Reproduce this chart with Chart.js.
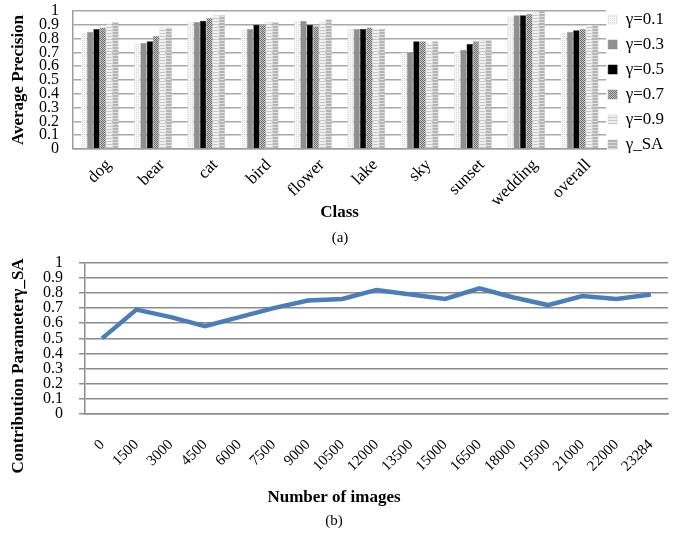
<!DOCTYPE html>
<html>
<head>
<meta charset="utf-8">
<script src="https://cdn.jsdelivr.net/npm/chart.js@4"></script>
<style>
  html, body { margin: 0; padding: 0; background: #fff; }
  #wrapA { position: absolute; left: 0; top: 0; width: 694px; height: 250px; }
  #wrapB { position: absolute; left: 0; top: 250px; width: 694px; height: 290px; }
</style>
</head>
<body>
<div id="wrapA"><canvas id="precisionChart"></canvas></div>
<div id="wrapB"><canvas id="gammaChart"></canvas></div>
<script>
// (a) Average precision per class
const classes = ['dog', 'bear', 'cat', 'bird', 'flower', 'lake', 'sky', 'sunset', 'wedding', 'overall'];
const gamma01 = [0.84, 0.77, 0.92, 0.86, 0.93, 0.87, 0.70, 0.71, 0.96, 0.84];
const gamma03 = [0.85, 0.77, 0.92, 0.87, 0.93, 0.87, 0.70, 0.72, 0.97, 0.85];
const gamma05 = [0.87, 0.78, 0.93, 0.90, 0.90, 0.87, 0.78, 0.76, 0.97, 0.86];
const gamma07 = [0.88, 0.82, 0.95, 0.90, 0.89, 0.88, 0.78, 0.78, 0.98, 0.87];
const gamma09 = [0.91, 0.88, 0.97, 0.92, 0.92, 0.87, 0.77, 0.79, 0.99, 0.90];
const gammaSAByClass = [0.92, 0.88, 0.97, 0.92, 0.94, 0.87, 0.78, 0.79, 1.00, 0.90];
const seriesNames = ['γ=0.1', 'γ=0.3', 'γ=0.5', 'γ=0.7', 'γ=0.9', 'γ_SA'];
const yTickLabels = ['0', '0.1', '0.2', '0.3', '0.4', '0.5', '0.6', '0.7', '0.8', '0.9', '1'];

// (b) Contribution parameter vs number of images
const imageCounts = ['0', '1500', '3000', '4500', '6000', '7500', '9000', '10500', '12000',
  '13500', '15000', '16500', '18000', '19500', '21000', '22000', '23284'];
const gammaSA = [0.50, 0.69, 0.64, 0.58, 0.64, 0.70, 0.75, 0.76, 0.82,
  0.79, 0.76, 0.83, 0.77, 0.72, 0.78, 0.76, 0.79];

const serif = "'Liberation Serif', 'Times New Roman', serif";
Chart.defaults.font.family = serif;
Chart.defaults.color = '#000';

function makePattern(w, h, draw) {
  const c = document.createElement('canvas');
  c.width = w;
  c.height = h;
  const ctx = c.getContext('2d');
  draw(ctx);
  return ctx.createPattern(c, 'repeat');
}

const fill01 = makePattern(2, 2, ctx => {
  ctx.fillStyle = '#f6f6f6'; ctx.fillRect(0, 0, 2, 2);
  ctx.fillStyle = '#dcdcdc'; ctx.fillRect(0, 0, 1, 1);
});
const fill07 = makePattern(2, 2, ctx => {
  ctx.fillStyle = '#c4c4c4'; ctx.fillRect(0, 0, 2, 2);
  ctx.fillStyle = '#6e6e6e'; ctx.fillRect(0, 0, 1, 1); ctx.fillRect(1, 1, 1, 1);
});
const fill09 = makePattern(2, 3, ctx => {
  ctx.fillStyle = '#f0f0f0'; ctx.fillRect(0, 0, 2, 3);
  ctx.fillStyle = '#c8c8c8'; ctx.fillRect(0, 0, 2, 1);
});
const fillSA = makePattern(2, 3, ctx => {
  ctx.fillStyle = '#b4b4b4'; ctx.fillRect(0, 0, 2, 3);
  ctx.fillStyle = '#dedede'; ctx.fillRect(0, 1, 2, 1);
});

const barSeries = [gamma01, gamma03, gamma05, gamma07, gamma09, gammaSAByClass];
const barFills = [fill01, '#8f8f8f', '#000000', fill07, fill09, fillSA];
const barBorders = ['#d4d4d4', '#8f8f8f', '#000000', '#8a8a8a', '#c8c8c8', '#b0b0b0'];

// shift the legend a little closer to the plot
const legendNudge = {
  id: 'legendNudge',
  afterLayout(chart) {
    chart.legend.left -= 6;
    chart.legend.right -= 6;
  }
};

const precisionChart = new Chart(document.getElementById('precisionChart'), {
  type: 'bar',
  data: {
    labels: classes,
    datasets: barSeries.map((values, i) => ({
      label: seriesNames[i],
      data: values,
      backgroundColor: barFills[i],
      borderColor: barBorders[i],
      borderWidth: 0.5,
      categoryPercentage: 0.71,
      barPercentage: 1.0
    }))
  },
  options: {
    responsive: true,
    maintainAspectRatio: false,
    animation: false,
    layout: { padding: { top: 3, right: 14, bottom: 3, left: 0 } },
    plugins: {
      legend: {
        position: 'right',
        align: 'start',
        labels: { boxWidth: 9, boxHeight: 9, padding: 8, font: { size: 17 }, color: '#000' }
      },
      title: {
        display: true,
        position: 'bottom',
        text: '(a)',
        font: { size: 15, weight: 'normal' },
        padding: { top: 4, bottom: 0 }
      },
      tooltip: { enabled: false }
    },
    scales: {
      x: {
        grid: { display: false, drawTicks: false },
        border: { color: '#9c9c9c', width: 1.5 },
        ticks: { minRotation: 45, maxRotation: 45, autoSkip: false, padding: 6, labelOffset: 9, font: { size: 17 } },
        title: { display: true, text: 'Class', font: { size: 17, weight: 'bold' }, padding: { top: 0, bottom: 2 } },
        afterFit: scale => { scale.height = 76; }
      },
      y: {
        min: 0,
        max: 1,
        ticks: { stepSize: 0.1, autoSkip: false, padding: 14, font: { size: 16 }, callback: (v, i) => yTickLabels[i] },
        grid: { color: '#a8a8a8', lineWidth: 1.5, drawTicks: false },
        border: { color: '#9c9c9c', width: 1.5 },
        title: { display: true, text: 'Average Precision', font: { size: 17, weight: 'bold' }, padding: { top: 8 } },
        afterFit: scale => { scale.width = 73; scale.paddingTop = 11; }
      }
    }
  },
  plugins: [legendNudge]
});

const gammaChart = new Chart(document.getElementById('gammaChart'), {
  type: 'line',
  data: {
    labels: imageCounts,
    datasets: [{
      label: 'γ_SA',
      data: gammaSA,
      borderColor: '#4a7ebb',
      borderWidth: 4.5,
      pointRadius: 0,
      tension: 0,
      fill: false
    }]
  },
  options: {
    responsive: true,
    maintainAspectRatio: false,
    animation: false,
    layout: { padding: { top: 3, right: 26, bottom: 10, left: 0 } },
    plugins: {
      legend: { display: false },
      subtitle: {
        display: true,
        position: 'bottom',
        text: 'Number of images',
        font: { size: 17, weight: 'bold' },
        padding: 0
      },
      title: {
        display: true,
        position: 'bottom',
        text: '(b)',
        font: { size: 15, weight: 'normal' },
        padding: { top: 4, bottom: 0 }
      },
      tooltip: { enabled: false }
    },
    scales: {
      x: {
        offset: true,
        grid: { display: false, drawTicks: false },
        border: { color: '#8c8c8c', width: 1.5 },
        ticks: { minRotation: 45, maxRotation: 45, autoSkip: false, padding: 22, font: { size: 15 } },
        afterFit: scale => { scale.height = 73.6; }
      },
      y: {
        min: 0,
        max: 1,
        ticks: { stepSize: 0.1, autoSkip: false, padding: 16, font: { size: 16 }, callback: (v, i) => yTickLabels[i] },
        grid: { color: '#8c8c8c', lineWidth: 1.5, tickLength: 6 },
        border: { color: '#8c8c8c', width: 1.5 },
        title: {
          display: true,
          text: 'Contribution Parameterγ_SA             ',
          font: { size: 17, weight: 'bold' },
          padding: { top: 8 }
        },
        afterFit: scale => { scale.width = 85; scale.paddingTop = 12.7; }
      }
    }
  }
});
</script>
</body>
</html>
